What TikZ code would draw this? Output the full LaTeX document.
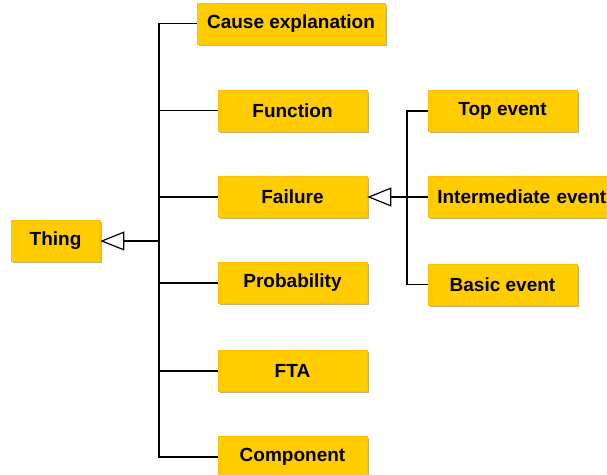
\documentclass[tikz,border=0pt]{standalone}
\usepackage{fontspec}
\setmainfont{Liberation Sans}
\usetikzlibrary{arrows.meta,shadows}
\definecolor{boxgold}{HTML}{FFCC00}
\definecolor{boxshade}{HTML}{C8B377}
\begin{document}
\begin{tikzpicture}[x=1pt,y=-1pt,
  concept/.style={draw=boxgold!85!orange, line width=0.6pt, fill=boxgold,
    minimum height=41pt, inner sep=0pt, font=\fontsize{19}{21}\selectfont\bfseries,
    drop shadow={shadow xshift=1.6pt, shadow yshift=-1.6pt, fill=boxshade, opacity=1}},
  link/.style={line width=1.2pt, black},
  isa/.style={link, -{Triangle[open, length=24pt, width=19pt, line width=1.2pt]}}]
  \useasboundingbox (0,0) rectangle (607,474);
  \clip (0,0) rectangle (607,474);

  % class nodes
  \node[concept, minimum width=89pt]  (thing)  at (55.5,241) {Thing};
  \node[concept, minimum width=188pt] (cause)  at (291,23.5)   {Cause explanation};
  \node[concept, minimum width=149pt] (func)   at (292.5,110.5) {Function};
  \node[concept, minimum width=149pt] (fail)   at (292.5,197) {Failure};
  \node[concept, minimum width=149pt] (prob)   at (292.5,283)  {Probability};
  \node[concept, minimum width=149pt] (fta)    at (292.5,371)  {FTA};
  \node[concept, minimum width=149pt] (comp)   at (292.5,457)  {Component};
  \node[concept, minimum width=149pt] (top)    at (502.5,111)  {Top event};
  \node[concept, anchor=west, text width=195pt, inner xsep=9pt, align=left]
        (inter)  at (428,197) {Intermediate event};
  \node[concept, minimum width=149pt] (basic)  at (502.5,284.5) {Basic event};

  % junction points of the two trees
  \coordinate (j1) at (159,241);
  \coordinate (j2) at (407,197);

  % subclasses of Thing
  \foreach \n in {cause,func,fail,prob,fta,comp}
    \draw[link] (\n.west) -| (j1);
  \draw[isa] (j1) -- (thing.east);

  % subclasses of Failure
  \foreach \n in {top,inter,basic}
    \draw[link] (\n.west) -| (j2);
  \draw[isa] (j2) -- (fail.east);
\end{tikzpicture}
\end{document}
